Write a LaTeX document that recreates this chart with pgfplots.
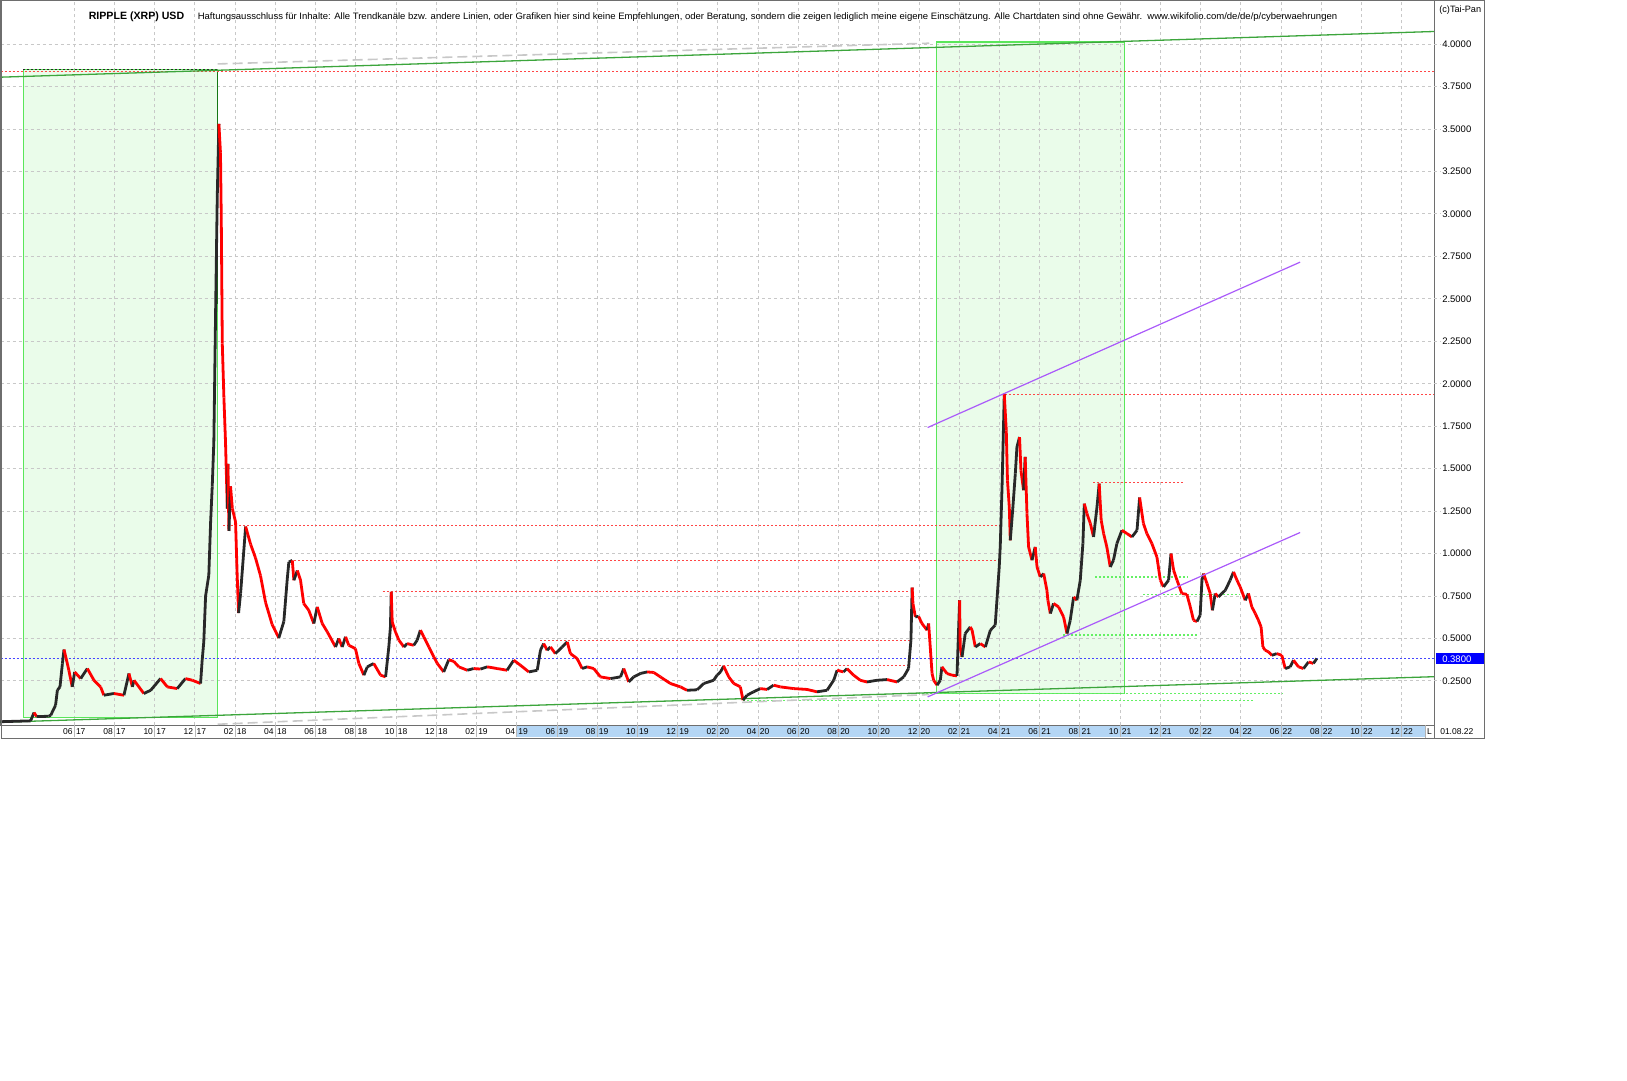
\documentclass[border=0pt]{standalone}
\usepackage{pgfplots}
\pgfplotsset{compat=1.18}
\usepackage{pgfplotstable}
\usepackage{graphicx}
\usepackage{fontspec}
\setmainfont{Liberation Sans}
\definecolor{gridgray}{RGB}{200,200,200}
\definecolor{rectfill}{RGB}{234,252,234}
\definecolor{rectborder}{RGB}{90,230,90}
\definecolor{trendgreen}{RGB}{60,165,60}
\definecolor{darkgreen}{RGB}{20,120,20}
\definecolor{resred}{RGB}{255,70,70}
\definecolor{supgreen}{RGB}{100,240,100}
\definecolor{violetline}{RGB}{170,90,250}
\definecolor{bluedot}{RGB}{70,70,255}
\definecolor{stripblue}{RGB}{180,214,245}
\definecolor{framegray}{RGB}{110,110,110}
\definecolor{candleblack}{RGB}{40,40,40}
\newcommand{\ml}[2]{#1\hspace{3.5pt}#2}

\pgfplotstableread{
m y c
1.34 0.010 1
2.83 0.015 1
3.00 0.064 0
3.13 0.040 1
3.73 0.042 1
3.83 0.048 1
4.07 0.107 1
4.16 0.195 1
4.29 0.215 1
4.41 0.352 1
4.49 0.435 0
4.66 0.350 0
4.73 0.313 0
4.90 0.215 1
5.02 0.303 0
5.32 0.264 1
5.65 0.323 0
5.98 0.254 0
6.31 0.215 0
6.47 0.166 1
6.97 0.176 0
7.47 0.166 1
7.72 0.294 0
7.89 0.215 1
7.97 0.254 0
8.46 0.176 1
8.80 0.195 1
9.29 0.264 0
9.63 0.215 0
10.12 0.205 1
10.53 0.264 0
10.87 0.254 0
11.28 0.235 1
11.36 0.372 1
11.44 0.480 1
11.53 0.750 1
11.69 0.873 1
11.78 1.186 1
11.86 1.396 1
11.94 1.658 1
12.03 2.445 1
12.11 3.100 1
12.19 3.530 0
12.27 3.360 0
12.31 2.970 0
12.36 2.237 0
12.44 1.920 0
12.52 1.658 0
12.61 1.265 1
12.64 1.528 0
12.69 1.133 1
12.77 1.396 0
12.86 1.265 0
13.02 1.186 0
13.10 0.873 0
13.17 0.650 1
13.27 0.766 1
13.52 1.159 0
13.77 1.054 0
14.01 0.975 0
14.26 0.870 0
14.51 0.713 0
14.84 0.582 0
15.17 0.503 1
15.42 0.600 1
15.59 0.850 1
15.67 0.950 1
15.84 0.960 0
15.92 0.843 1
16.09 0.900 0
16.25 0.843 0
16.41 0.706 0
16.66 0.666 0
16.91 0.588 1
17.08 0.686 0
17.33 0.588 0
17.58 0.539 0
17.99 0.450 1
18.15 0.500 0
18.32 0.450 1
18.49 0.510 0
18.65 0.460 0
18.98 0.440 0
19.15 0.353 0
19.40 0.284 1
19.57 0.333 1
19.89 0.353 0
20.23 0.284 0
20.48 0.274 1
20.64 0.450 1
20.72 0.568 1
20.76 0.774 0
20.81 0.597 0
20.97 0.539 0
21.14 0.490 0
21.39 0.450 1
21.55 0.470 0
21.88 0.460 1
22.05 0.490 1
22.21 0.549 0
22.38 0.510 0
22.63 0.450 0
22.88 0.391 0
23.05 0.353 0
23.37 0.303 1
23.62 0.375 0
23.87 0.365 0
24.12 0.333 0
24.54 0.313 1
24.86 0.323 0
25.20 0.320 1
25.53 0.333 0
26.03 0.323 0
26.52 0.313 1
26.85 0.372 0
27.18 0.343 0
27.60 0.303 1
28.02 0.313 1
28.18 0.431 1
28.34 0.470 0
28.51 0.431 1
28.68 0.450 0
28.92 0.411 1
29.26 0.450 1
29.51 0.480 0
29.67 0.411 0
30.00 0.382 0
30.25 0.323 1
30.50 0.333 0
30.83 0.323 0
31.16 0.274 0
31.66 0.264 1
32.16 0.274 1
32.32 0.323 0
32.57 0.244 1
32.82 0.274 1
33.15 0.294 1
33.48 0.303 0
33.81 0.300 0
34.14 0.274 0
34.64 0.235 0
35.14 0.215 0
35.47 0.195 1
35.97 0.198 1
36.30 0.235 1
36.79 0.254 1
36.96 0.284 1
37.13 0.303 1
37.29 0.337 0
37.54 0.274 0
37.79 0.235 0
38.12 0.215 0
38.25 0.137 1
38.45 0.166 1
38.78 0.186 1
39.11 0.205 0
39.45 0.200 1
39.77 0.225 0
40.11 0.215 0
40.77 0.205 0
41.43 0.200 0
41.93 0.186 1
42.43 0.195 1
42.76 0.254 1
42.93 0.313 0
43.25 0.303 1
43.42 0.323 0
43.75 0.284 0
44.08 0.254 0
44.42 0.244 1
44.91 0.254 1
45.41 0.258 0
45.91 0.244 1
46.24 0.274 1
46.48 0.323 1
46.60 0.490 1
46.66 0.800 0
46.70 0.706 0
46.82 0.627 1
46.98 0.630 0
47.15 0.588 0
47.40 0.549 1
47.48 0.588 0
47.56 0.450 0
47.65 0.294 0
47.73 0.254 0
47.90 0.225 1
48.06 0.254 1
48.14 0.333 0
48.39 0.294 0
48.64 0.284 0
48.89 0.280 1
49.02 0.725 0
49.05 0.450 0
49.14 0.391 1
49.30 0.529 1
49.55 0.568 0
49.64 0.549 0
49.80 0.450 1
50.05 0.470 0
50.30 0.450 1
50.55 0.549 1
50.79 0.578 1
50.99 0.921 1
51.04 1.039 1
51.13 1.392 1
51.21 1.785 1
51.24 1.940 0
51.34 1.726 0
51.40 1.431 0
51.49 1.274 0
51.54 1.078 1
51.67 1.274 1
51.79 1.471 1
51.87 1.627 1
52.00 1.686 0
52.07 1.490 0
52.20 1.373 1
52.28 1.569 0
52.37 1.235 0
52.45 1.039 0
52.62 0.961 1
52.78 1.039 0
52.87 0.921 0
53.03 0.862 1
53.20 0.882 0
53.36 0.784 0
53.41 0.725 0
53.53 0.647 1
53.69 0.706 0
53.94 0.686 0
54.19 0.627 0
54.36 0.529 1
54.52 0.607 1
54.69 0.745 0
54.85 0.725 1
55.02 0.843 1
55.15 1.059 1
55.22 1.294 0
55.35 1.235 0
55.52 1.177 0
55.68 1.098 1
55.85 1.274 1
55.96 1.412 0
56.06 1.196 0
56.18 1.118 0
56.34 1.039 0
56.51 0.921 1
56.67 0.961 1
56.84 1.059 1
57.09 1.137 0
57.34 1.118 0
57.59 1.098 1
57.84 1.137 1
57.97 1.330 0
58.16 1.177 0
58.33 1.118 0
58.58 1.059 0
58.83 0.980 0
59.00 0.843 0
59.16 0.804 1
59.41 0.843 1
59.53 1.000 0
59.66 0.902 0
59.83 0.843 0
60.07 0.765 0
60.32 0.760 0
60.49 0.686 0
60.65 0.607 0
60.82 0.600 1
60.98 0.637 1
61.07 0.843 1
61.15 0.882 0
61.32 0.823 0
61.48 0.765 0
61.59 0.666 1
61.73 0.765 0
61.89 0.745 1
62.06 0.765 1
62.23 0.784 1
62.47 0.843 1
62.64 0.892 0
62.81 0.843 0
62.97 0.804 0
63.22 0.725 1
63.38 0.765 0
63.55 0.686 0
63.72 0.647 0
63.88 0.607 0
64.01 0.568 0
64.10 0.450 0
64.21 0.431 0
64.38 0.421 0
64.55 0.401 1
64.79 0.411 0
65.04 0.401 0
65.21 0.323 1
65.46 0.333 1
65.62 0.372 0
65.87 0.333 0
66.12 0.323 1
66.37 0.362 0
66.61 0.353 1
66.78 0.382 1
}\price

\begin{document}
\begin{tikzpicture}
\path (0pt,0pt) rectangle (1627pt,1080pt);
\begin{axis}[
  at={(0pt,355pt)}, anchor=south west,
  scale only axis, width=1434pt, height=725pt,
  xmin=1.34, xmax=72.61, ymin=-0.0106, ymax=4.2566,
  set layers, clip=false,
  axis line style={framegray, line width=1pt},
  xtick={5,7,...,71},
  xticklabels={\ml{06}{17},\ml{08}{17},\ml{10}{17},\ml{12}{17},
    \ml{02}{18},\ml{04}{18},\ml{06}{18},\ml{08}{18},\ml{10}{18},\ml{12}{18},
    \ml{02}{19},\ml{04}{19},\ml{06}{19},\ml{08}{19},\ml{10}{19},\ml{12}{19},
    \ml{02}{20},\ml{04}{20},\ml{06}{20},\ml{08}{20},\ml{10}{20},\ml{12}{20},
    \ml{02}{21},\ml{04}{21},\ml{06}{21},\ml{08}{21},\ml{10}{21},\ml{12}{21},
    \ml{02}{22},\ml{04}{22},\ml{06}{22},\ml{08}{22},\ml{10}{22},\ml{12}{22}},
  ytick={0.25,0.5,0.75,1,1.25,1.5,1.75,2,2.25,2.5,2.75,3,3.25,3.5,3.75,4},
  yticklabel pos=right,
  tick style={draw=none}, major tick length=0pt,
  grid=major,
  major grid style={gridgray, line width=0.9pt, dash pattern=on 3pt off 3pt},
  xticklabel style={font=\fontsize{8.5}{10}\selectfont, inner sep=1pt, yshift=-2.5pt},
  yticklabel style={font=\fontsize{9.5}{11}\selectfont, anchor=west, inner sep=1pt, xshift=7pt},
  y tick label style={/pgf/number format/.cd, fixed, fixed zerofill, precision=4, assume math mode=true},
]
% x label strip background
\begin{pgfonlayer}{axis background}
  \fill[stripblue] (axis cs:27,-0.0106) rectangle ++(908.6pt,-12pt);
\end{pgfonlayer}
% green boxes
\addplot[fill=rectfill, draw=none, on layer=axis background] coordinates {(2.47,0.036) (12.12,0.036) (12.12,3.848) (2.47,3.848)} -- cycle;
\addplot[fill=rectfill, draw=none, on layer=axis background] coordinates {(47.86,0.176) (57.21,0.176) (57.21,4.012) (47.86,4.012)} -- cycle;
\addplot[rectborder, line width=1.1pt] coordinates {(2.47,0.036) (12.12,0.036) (12.12,3.848) (2.47,3.848) (2.47,0.036)};
\addplot[rectborder, line width=1.1pt] coordinates {(47.86,0.176) (57.21,0.176) (57.21,4.012) (47.86,4.012) (47.86,0.176)};
\addplot[darkgreen, line width=1.4pt] coordinates {(12.12,3.848) (12.12,2.47)};
\addplot[candleblack, line width=1pt, dash pattern=on 2pt off 2pt] coordinates {(2.47,3.848) (12.12,3.848)};
% resistance lines (red dotted)
\pgfplotsset{resline/.style={resred, line width=1pt, dash pattern=on 2pt off 2pt}}
\addplot[resline] coordinates {(1.34,3.84) (72.61,3.84)};
\addplot[resline] coordinates {(51.29,1.937) (72.61,1.937)};
\addplot[resline] coordinates {(55.66,1.416) (60.14,1.416)};
\addplot[resline] coordinates {(12.42,1.167) (51.04,1.167)};
\addplot[resline] coordinates {(15.75,0.959) (50.89,0.959)};
\addplot[resline] coordinates {(20.33,0.776) (46.57,0.776)};
\addplot[resline] coordinates {(28.18,0.490) (46.57,0.490)};
\addplot[resline] coordinates {(36.68,0.339) (46.47,0.339)};
% support lines (green dotted)
\pgfplotsset{supline/.style={supgreen, line width=1.2pt, dash pattern=on 2pt off 2pt}}
\addplot[supline] coordinates {(55.76,0.862) (60.34,0.862)};
\addplot[supline] coordinates {(58.15,0.759) (62.97,0.759)};
\addplot[supline] coordinates {(54.17,0.520) (60.88,0.520)};
\addplot[supline] coordinates {(46.57,0.176) (65.06,0.176)};
\addplot[supline] coordinates {(38.27,0.137) (63.62,0.137)};
% current price line
\addplot[bluedot, line width=1pt, dash pattern=on 2pt off 2pt] coordinates {(1.34,0.38) (72.61,0.38)};
% long trend lines
\addplot[gridgray, line width=1.6pt, dash pattern=on 10pt off 5pt] coordinates {(12.13,3.883) (47.51,4.005)};
\addplot[gridgray, line width=1.6pt, dash pattern=on 10pt off 5pt] coordinates {(12.13,-0.005) (47.51,0.170)};
\addplot[trendgreen, line width=1.3pt] coordinates {(1.34,3.805) (72.61,4.074)};
\addplot[trendgreen, line width=1.3pt] coordinates {(1.34,0.007) (72.61,0.275)};
% price
\addplot[mesh, shader=flat corner, point meta=\thisrow{c}, point meta min=0, point meta max=1,
  colormap={candle}{color=(red) color=(candleblack)}, line width=2.8pt, line join=round]
  table[x=m, y=y] {\price};
% violet channel
\addplot[violetline, line width=1.2pt] coordinates {(47.43,1.742) (65.95,2.716)};
\addplot[violetline, line width=1.2pt] coordinates {(47.43,0.156) (65.95,1.124)};
% strip separators and right-panel tick stubs
\pgfplotsinvokeforeach{5,7,...,71}{\draw[gray!55, line width=0.8pt] (axis cs:#1,-0.0106) -- ++(0pt,-12pt);}
\pgfplotsinvokeforeach{0.25,0.5,0.75,1,1.25,1.5,1.75,2,2.25,2.5,2.75,3,3.25,3.5,3.75,4}{\draw[gridgray, line width=0.9pt, dash pattern=on 3pt off 3pt] (axis cs:72.61,#1) -- ++(7pt,0pt);}
\end{axis}
\begin{scope}[shift={(0pt,1080pt)},x=1pt,y=-1pt]
  \draw[framegray, line width=1pt] (0.5,0.5) rectangle (1484,738);
  \draw[framegray, line width=1pt] (1434,725) -- (1434,738);
  \draw[gray!60, line width=0.8pt] (1425,725) -- (1425,738);
  \node[anchor=base, inner sep=0pt, font=\fontsize{8.5}{10}\selectfont] at (1429.5,734.5) {L};
  \node[anchor=base west, inner sep=0pt, font=\fontsize{8.5}{10}\selectfont] at (1440,734.5) {01.08.22};
  \node[anchor=base west, inner sep=0pt, font=\fontsize{9.2}{11}\selectfont] at (1439,12) {(c)Tai-Pan};
  \fill[blue] (1436,653) rectangle (1484,664);
  \node[anchor=west, inner sep=0pt, text=white, font=\fontsize{9.5}{11}\selectfont] at (1442,658.6) {0.3800};
  \node[anchor=base west, inner sep=0pt, font=\bfseries\fontsize{10.6}{12}\selectfont] at (88,19.3) {RIPPLE (XRP) USD};
  \node[anchor=base west, inner sep=0pt, font=\fontsize{9.3}{11}\selectfont] at (197,19.3) {\resizebox{1140pt}{\height}{Haftungsausschluss für Inhalte: Alle Trendkanäle bzw. andere Linien, oder Grafiken hier sind keine Empfehlungen, oder Beratung, sondern die zeigen lediglich meine eigene Einschätzung. Alle Chartdaten sind ohne Gewähr.\ \ www.wikifolio.com/de/de/p/cyberwaehrungen}};
\end{scope}
\end{tikzpicture}
\end{document}
